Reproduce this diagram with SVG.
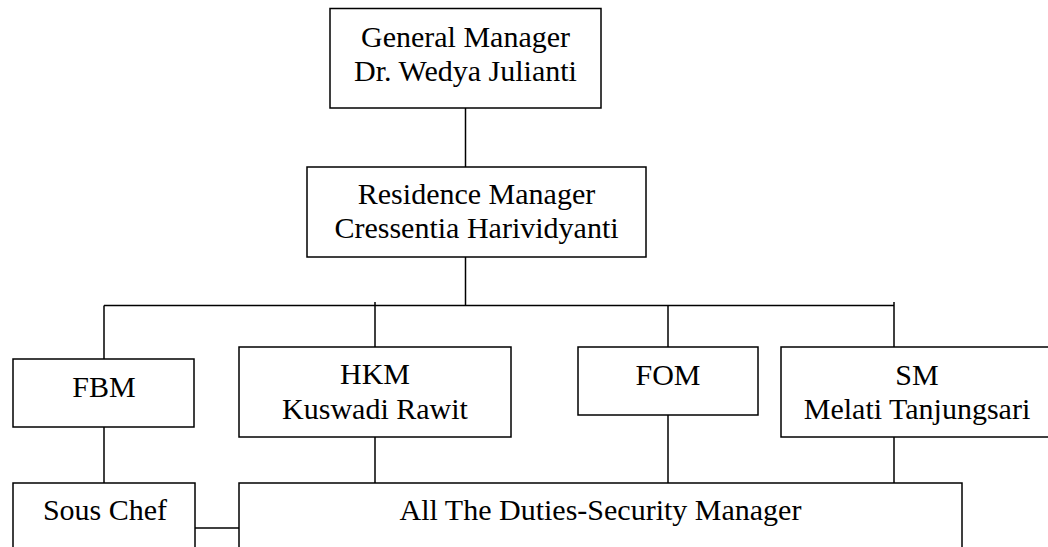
<svg xmlns="http://www.w3.org/2000/svg" width="1048" height="547" viewBox="0 0 1048 547">
<style>
.box{fill:#fff;stroke:#000;stroke-width:1.5}
.ln{stroke:#000;stroke-width:1.5;fill:none}
text{font-family:'Liberation Serif','Times New Roman',serif;font-size:30px;fill:#000;text-anchor:middle}
</style>
<rect width="1048" height="547" fill="#fff"/>
<g id="connectors">
<line class="ln" x1="465.5" y1="108" x2="465.5" y2="167"/>
<line class="ln" x1="465.5" y1="257" x2="465.5" y2="305.5"/>
<line class="ln" x1="104" y1="305.5" x2="894" y2="305.5"/>
<line class="ln" x1="104" y1="305.5" x2="104" y2="359"/>
<line class="ln" x1="375" y1="302" x2="375" y2="347"/>
<line class="ln" x1="668" y1="305.5" x2="668" y2="347"/>
<line class="ln" x1="894" y1="302" x2="894" y2="347"/>
<line class="ln" x1="104" y1="427" x2="104" y2="483"/>
<line class="ln" x1="375" y1="437" x2="375" y2="483"/>
<line class="ln" x1="668" y1="415" x2="668" y2="483"/>
<line class="ln" x1="894" y1="437" x2="894" y2="483"/>
<line class="ln" x1="195" y1="528" x2="239" y2="528"/>
</g>
<g id="gm">
<rect class="box" x="330" y="8.5" width="271" height="99.5"/>
<text x="465.5" y="47">General Manager</text>
<text x="465.5" y="81">Dr. Wedya Julianti</text>
</g>
<g id="rm">
<rect class="box" x="307" y="167" width="339" height="90"/>
<text x="476.5" y="204">Residence Manager</text>
<text x="476.5" y="238">Cressentia Harividyanti</text>
</g>
<g id="fbm">
<rect class="box" x="13" y="359" width="181" height="68"/>
<text x="104" y="397">FBM</text>
</g>
<g id="hkm">
<rect class="box" x="239" y="347" width="272" height="90"/>
<text x="375" y="384">HKM</text>
<text x="375" y="419">Kuswadi Rawit</text>
</g>
<g id="fom">
<rect class="box" x="578" y="347" width="180" height="68"/>
<text x="668" y="385">FOM</text>
</g>
<g id="sm">
<rect class="box" x="781" y="347" width="280" height="90"/>
<text x="917" y="385">SM</text>
<text x="917" y="419">Melati Tanjungsari</text>
</g>
<g id="souschef">
<rect class="box" x="13" y="483" width="182" height="80"/>
<text x="105" y="520">Sous Chef</text>
</g>
<g id="duties">
<rect class="box" x="239" y="483" width="723" height="80"/>
<text x="600.5" y="520">All The Duties-Security Manager</text>
</g>
</svg>
